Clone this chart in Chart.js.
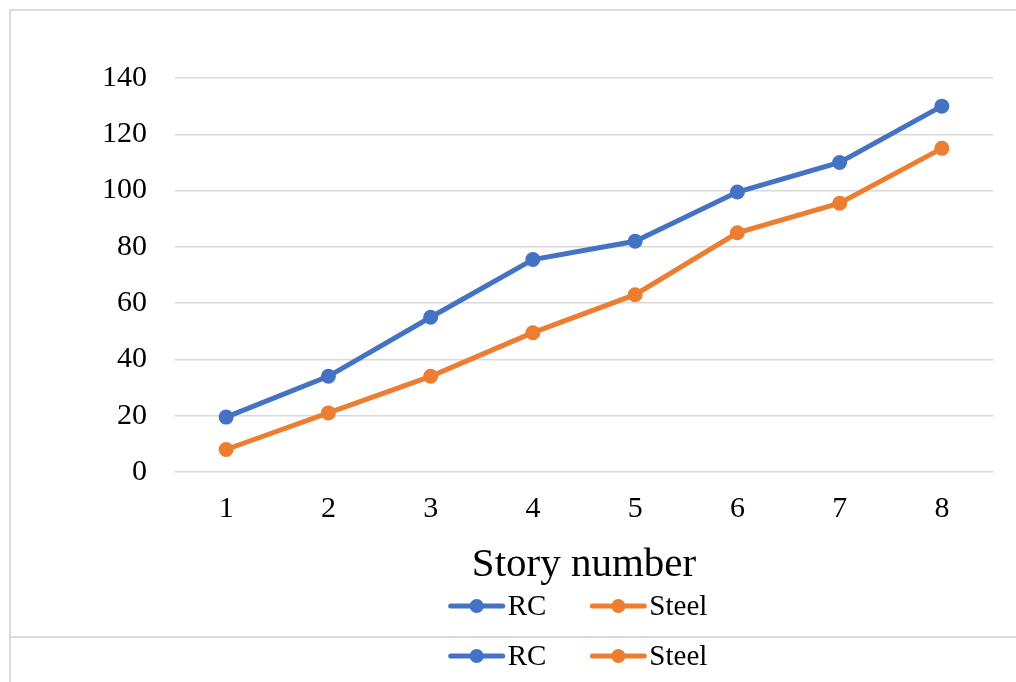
<!DOCTYPE html>
<html>
<head>
<meta charset="utf-8">
<script src="https://cdn.jsdelivr.net/npm/chart.js@4.4.1/dist/chart.umd.min.js"></script>
<style>
  html, body { margin: 0; padding: 0; background: #ffffff; }
  #wrap { width: 1016px; height: 682px; position: relative; }
</style>
</head>
<body>
<div id="wrap"><canvas id="chart" width="1016" height="682"></canvas></div>
<script>
// Story numbers along the horizontal axis
const stories = ['1', '2', '3', '4', '5', '6', '7', '8'];
// Values per story for each structural system
const rcValues = [19.5, 34, 55, 75.5, 82, 99.5, 110, 130];
const steelValues = [8, 21, 34, 49.5, 63, 85, 95.5, 115];
const seriesNames = ['RC', 'Steel'];
const axisTitle = 'Story number';

const BLUE = '#4472C4';
const ORANGE = '#ED7D31';
const GRID = '#D9D9D9';
const SERIF = '"Liberation Serif", "Times New Roman", serif';

// Frame lines and the two legend rows drawn under the plot
const frameAndLegends = {
  id: 'frameAndLegends',
  afterDraw(chart) {
    const ctx = chart.ctx;
    ctx.save();
    ctx.strokeStyle = GRID;
    ctx.lineWidth = 2;
    ctx.beginPath();
    ctx.moveTo(10, 682); ctx.lineTo(10, 10); ctx.lineTo(1016, 10);
    ctx.moveTo(10, 637); ctx.lineTo(1016, 637);
    ctx.stroke();

    const items = chart.data.datasets.map(ds => ({ label: ds.label, color: ds.borderColor }));
    ctx.font = '29px ' + SERIF;
    const lineLen = 56, gap = 3, itemGap = 44;
    const widths = items.map(it => lineLen + gap + ctx.measureText(it.label).width);
    const total = widths.reduce((a, b) => a + b, 0) + itemGap * (items.length - 1);
    [606, 656].forEach(cy => {
      let x = 578 - total / 2;
      items.forEach((it, i) => {
        ctx.strokeStyle = it.color;
        ctx.lineWidth = 5;
        ctx.lineCap = 'round';
        ctx.beginPath();
        ctx.moveTo(x + 2, cy); ctx.lineTo(x + lineLen - 2, cy);
        ctx.stroke();
        ctx.fillStyle = it.color;
        ctx.beginPath();
        ctx.arc(x + lineLen / 2, cy, 7, 0, Math.PI * 2);
        ctx.fill();
        ctx.fillStyle = '#000000';
        ctx.textAlign = 'left';
        ctx.textBaseline = 'middle';
        ctx.fillText(it.label, x + lineLen + gap, cy + 1);
        x += widths[i] + itemGap;
      });
    });
    ctx.restore();
  }
};

new Chart(document.getElementById('chart'), {
  type: 'line',
  data: {
    labels: stories,
    datasets: [
      {
        label: seriesNames[0],
        data: rcValues,
        borderColor: BLUE,
        backgroundColor: BLUE,
        borderWidth: 5,
        pointRadius: 7.5,
        pointHoverRadius: 7.5,
        pointBorderWidth: 0,
        tension: 0
      },
      {
        label: seriesNames[1],
        data: steelValues,
        borderColor: ORANGE,
        backgroundColor: ORANGE,
        borderWidth: 5,
        pointRadius: 7.5,
        pointHoverRadius: 7.5,
        pointBorderWidth: 0,
        tension: 0
      }
    ]
  },
  options: {
    responsive: false,
    animation: false,
    layout: { padding: { left: 0, right: 23, top: 78, bottom: 92 } },
    plugins: {
      legend: { display: false },
      tooltip: { enabled: false }
    },
    scales: {
      x: {
        offset: true,
        grid: { display: false, drawTicks: false },
        border: { display: false },
        ticks: { color: '#000000', padding: 19, font: { family: SERIF, size: 30 } },
        title: {
          display: true,
          text: axisTitle,
          color: '#000000',
          padding: { top: 0, bottom: 0 },
          font: { family: SERIF, size: 41 }
        },
        afterFit(scale) { scale.height = 118; }
      },
      y: {
        min: 0,
        max: 140,
        grid: { color: GRID, lineWidth: 1.5, drawTicks: false },
        border: { display: false },
        ticks: { stepSize: 20, color: '#000000', padding: 28, font: { family: SERIF, size: 30 } },
        afterFit(scale) { scale.width = 175; }
      }
    }
  },
  plugins: [frameAndLegends]
});
</script>
</body>
</html>
